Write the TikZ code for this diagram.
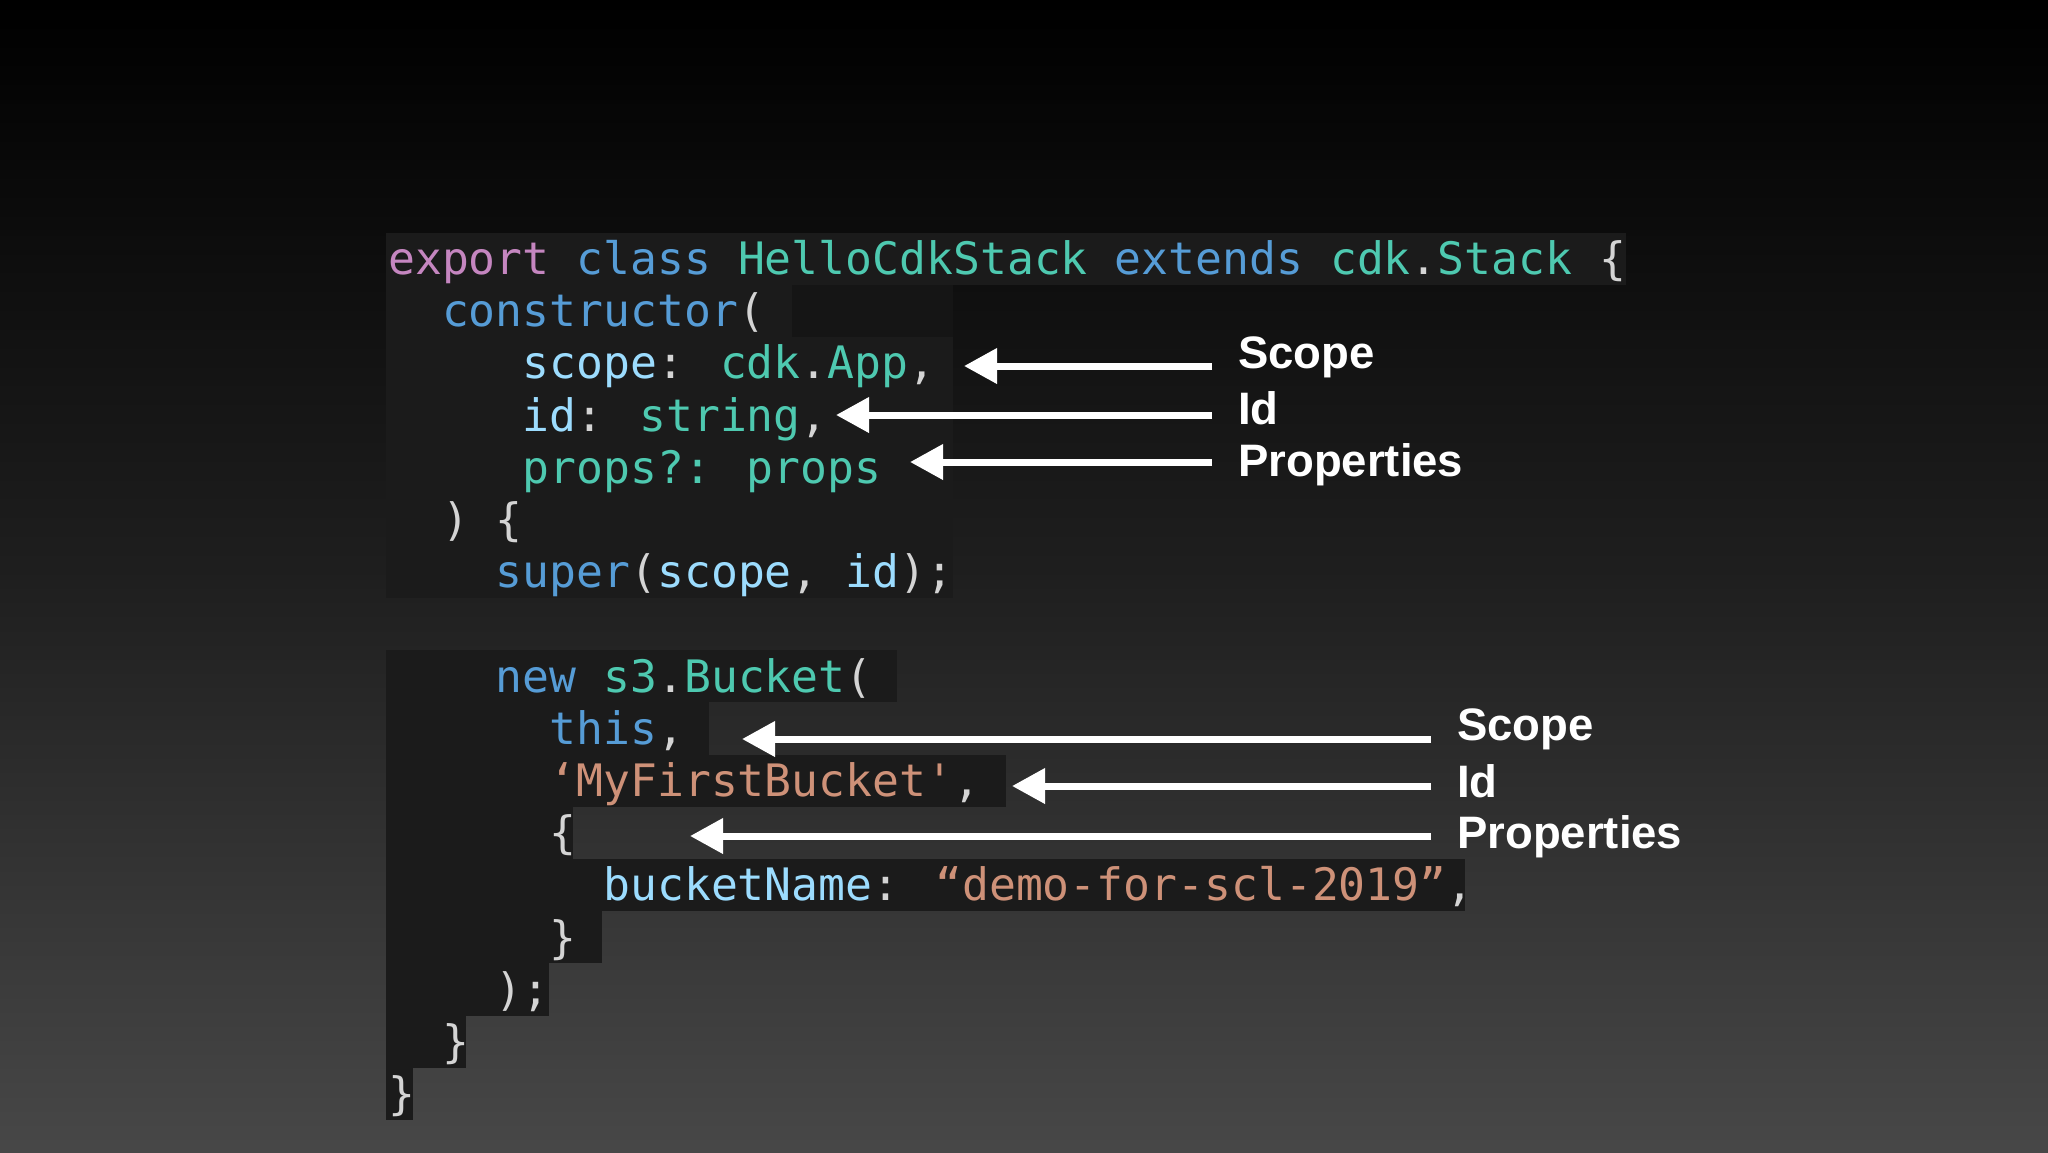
\documentclass[tikz,border=0pt]{standalone}
\usepackage{fontspec}
\newfontfamily\codefont{DejaVu Sans Mono}
\newfontfamily\labfont{Liberation Sans}
\usetikzlibrary{arrows.meta}
\definecolor{kwp}{HTML}{C586C0}
\definecolor{kwb}{HTML}{569CD6}
\definecolor{tl}{HTML}{4EC9B0}
\definecolor{lb}{HTML}{9CDCFE}
\definecolor{orn}{HTML}{CE9178}
\definecolor{pn}{HTML}{D4D4D4}
\definecolor{boxc}{HTML}{1B1B1B}
\definecolor{boxd}{HTML}{151515}
\tikzset{
  code/.style={anchor=base west,inner sep=0pt,font=\codefont\fontsize{44.7}{52}\selectfont,text=pn},
  lab/.style={anchor=west,inner sep=0pt,font=\labfont\bfseries\fontsize{45.5}{50}\selectfont,text=white},
  arr/.style={draw=white,line width=7pt,-{Triangle[length=33pt,width=34pt]}},
  cbox/.style={fill=boxc,draw=none}
}
\newcommand{\K}[2]{\textcolor{#1}{#2}}
\begin{document}
\begin{tikzpicture}[x=1pt,y=-1pt]
\useasboundingbox (0,0) rectangle (2048,1152);
\shade[top color=black,bottom color=black!72!white,middle color=black!88!white] (0,0) rectangle (2048,1152);
\def\RT#1{232.5+52.2*#1}
% block 1 boxes
\fill[boxc] (386,{\RT{0}}) rectangle (1626,{\RT{1}});
\fill[boxc] (386,{\RT{1}}) rectangle (953,{\RT{7}});
\fill[boxd] (792,{\RT{1}}) rectangle (953,{\RT{2}});
% block 2 boxes
\fill[boxc] (386,{\RT{8}}) rectangle (897,{\RT{9}});
\fill[boxc] (386,{\RT{9}}) rectangle (709,{\RT{10}});
\fill[boxc] (386,{\RT{10}}) rectangle (1006,{\RT{11}});
\fill[boxc] (386,{\RT{11}}) rectangle (573,{\RT{12}});
\fill[boxc] (386,{\RT{12}}) rectangle (1465,{\RT{13}});
\fill[boxc] (386,{\RT{13}}) rectangle (602,{\RT{14}});
\fill[boxc] (386,{\RT{14}}) rectangle (549,{\RT{15}});
\fill[boxc] (386,{\RT{15}}) rectangle (466,{\RT{16}});
\fill[boxc] (386,{\RT{16}}) rectangle (413,{\RT{17}});
% code lines
\def\CX#1{388+26.9*#1}
\def\BL#1{274.5+52.2*#1}
\node[code] (l0) at ({\CX{0}},{\BL{0}}) {\K{kwp}{export} \K{kwb}{class} \K{tl}{HelloCdkStack} \K{kwb}{extends} \K{tl}{cdk}.\K{tl}{Stack} \{};
\node[code] (l1) at ({\CX{2}},{\BL{1}}) {\K{kwb}{constructor}(};
\node[code] (l2) at ({\CX{5}},{\BL{2}}) {\K{lb}{scope}: \K{tl}{cdk}.\K{tl}{App},};
\node[code] (l3) at ({\CX{5}},{\BL{3}}) {\K{lb}{id}: \K{tl}{string},};
\node[code] (l4) at ({\CX{5}},{\BL{4}}) {\K{tl}{props?: props}};
\node[code] (l5) at ({\CX{2}},{\BL{5}}) {) \{};
\node[code] (l6) at ({\CX{4}},{\BL{6}}) {\K{kwb}{super}(\K{lb}{scope}, \K{lb}{id});};
\node[code] (l8) at ({\CX{4}},{\BL{8}}) {\K{kwb}{new} \K{tl}{s3}.\K{tl}{Bucket}(};
\node[code] (l9) at ({\CX{6}},{\BL{9}}) {\K{kwb}{this},};
\node[code] (l10) at ({\CX{6}},{\BL{10}}) {\K{orn}{‘MyFirstBucket'},};
\node[code] (l11) at ({\CX{6}},{\BL{11}}) {\{};
\node[code] (l12) at ({\CX{8}},{\BL{12}}) {\K{lb}{bucketName}: \K{orn}{“demo-for-scl-2019”},};
\node[code] (l13) at ({\CX{6}},{\BL{13}}) {\}};
\node[code] (l14) at ({\CX{4}},{\BL{14}}) {);};
\node[code] (l15) at ({\CX{2}},{\BL{15}}) {\}};
\node[code] (l16) at ({\CX{0}},{\BL{16}}) {\}};
% labels
\node[lab] (s1) at (1238,357) {Scope};
\node[lab] (i1) at (1238,408) {Id};
\node[lab] (p1) at (1238,465) {Properties};
\node[lab] (s2) at (1457,729) {Scope};
\node[lab] (i2) at (1457,781) {Id};
\node[lab] (p2) at (1457,837) {Properties};
% arrow coordinates
\coordinate (a1s) at (1212,366); \coordinate (a1e) at (964,366);
\coordinate (a2s) at (1212,415); \coordinate (a2e) at (836,415);
\coordinate (a3s) at (1212,462); \coordinate (a3e) at (910,462);
\coordinate (b1s) at (1431,739); \coordinate (b1e) at (742,739);
\coordinate (b2s) at (1431,786); \coordinate (b2e) at (1012,786);
\coordinate (b3s) at (1431,836); \coordinate (b3e) at (690,836);
\draw[arr] (a1s) -- (a1e);
\draw[arr] (a2s) -- (a2e);
\draw[arr] (a3s) -- (a3e);
\draw[arr] (b1s) -- (b1e);
\draw[arr] (b2s) -- (b2e);
\draw[arr] (b3s) -- (b3e);
\end{tikzpicture}
\end{document}
